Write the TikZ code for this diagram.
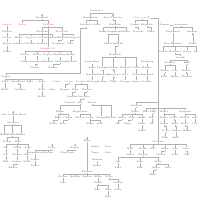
\documentclass[tikz,border=0pt]{standalone}
\tikzset{
  lbl/.style={font=\fontsize{2.3}{2.5}\selectfont, inner sep=0.3pt, text=black!65},
  rl/.style={lbl, text=red!75},
  ln/.style={draw=black!30, line width=0.25pt}
}
\newcommand\fkids[2]{%
  \path (#1.south) ++(0,1) coordinate (#1b);
  \draw[ln] (#1.south) -- (#1b);
  \foreach \c in {#2}{\draw[ln] (\c.north) |- (#1b);}}
\newcommand\crossat[1]{%
  \draw[ln] (#1.north) -- ++(0,-2.6) (#1.north) ++(-0.9,-1.7) -- ++(1.8,0);}
\begin{document}
\begin{tikzpicture}[x=1pt,y=-1pt]
\useasboundingbox (0,0) rectangle (200,200);
% ---------- gray labels ----------
\foreach \n/\x/\y/\t in {
 t0/97/11/Ludwig I., a0/42/18/Friedrich, b0/90/18/Maximilian, b1/113/18/Karl Theodor,
 b2/86/25/Luitpold, b3/97/25/Adele, b4/115/25/Mathilde, c1/135/25/Sophie, c2/147/25/Heinrich,
 d1/164/25/Clemens, d2/181/25/Alexandra,
 a4/7/32/Therese, a5/42/32/Albrecht, b5/103/32/Arnulf, b6/115/32/Rupprecht, b7/126/32/Gisela,
 c3/138/32/Leopold, c4/151/32/Marie, d3/173/32/Ferdinand, d4/192/32/Antonie,
 a8/19/38/Ernst, a11/52/38/Ludovika, a12/62/38/Franz, a13/73/38/Hildegard,
 a14/7/44/Eugen, a15/19/44/Adalbert, a16/31/44/Helene, a17/42/44/Konrad, a18/58/44/Josephine, a19/70/44/Carl,
 b8/108/44/Albert, b9/118/44/Isabella, d5/173/44/Max Emanuel, d6/193/44/Paula,
 a21/7/52/Oskar, d7/163/52/Rudolf, d8/175/52/Marianne, d9/187/52/Georg, d10/196/52/Ida,
 a22/25/55/Gustav, a23/37/55/Klara, a24/48/55/Rupert, a25/60/55/Walburga, a26/71/55/Benno,
 b10/115/55/Heinrich, d11/180/58/Joseph,
 a27/25/62/Alfons, a28/37/62/Irmingard, a29/48/62/Ottokar, a30/60/62/Viktoria, a31/71/62/Albrecht,
 e0/92/62/Leopoldine, f0/147/62/Wolfgang, d12/170/63/Stefanie, d13/187/63/Emil,
 a32/35/68/Sibylle, a33/53/68/Rainer,
 e1/92/68/Anna, e2/102/68/Philipp, e3/113/68/Gabriele, e4/125/68/Michael, e5/136/68/Cecilie, f1/147/68/Hubert,
 d14/165/71/Erwin, d15/175/71/Lina, d16/186/71/Moritz,
 e6/92/75/Karoline, e7/103/75/Dietrich, e8/114/75/Margarete, e9/125/75/Otto, e10/136/75/Clara, e11/147/75/Bernhard,
 g0/6/77/Sophie, d17/164/77/Kurt, d18/175/77/Emma, d19/187/77/Theodor,
 g1/5/82/Adolf, g2/18/82/Mechthild, g3/30/82/Egon, g4/42/82/Irene,
 e12/92/82/Hedwig, e13/102/82/Roman, e14/113/82/Ulrike, e15/125/82/Prosper, e16/136/82/Agnes, e17/147/82/Lothar,
 g8/5/90/Erich, g9/20/90/Johanna, g10/42/90/Felix, g11/52/90/Olga, g12/65/90/Kaspar, g13/75/90/Rosa, g14/87/90/Werner,
 g15/42/97/Herta, g16/72/97/Anselm, g17/84/97/Dorothea,
 h0/70/103/Richard, h1/80/103/Ida, h2/92/103/Frieda, i0/136/106/Gertrud,
 j1/4/115/Ada, j2/13/115/Lorenz, j3/23/115/Berta,
 h3/60/112/Kilian, h4/80/112/Magdalena, i1/135/112/Xaver, i2/146/112/Else, i3/153/112/Paul, i4/164/112/Marta, i5/185/112/Georgine,
 h5/58/118/Emil, h6/68/118/Carola, h7/80/118/Walter, h8/90/118/Luise, h9/101/118/Gregor, h10/111/118/Elfriede,
 h11/122/118/Anton, h12/132/118/Nora, i6/142/118/Bruno, i7/152/118/Eva, i8/164/118/Kuno, i9/174/118/Ottilie, i10/185/118/Harald, i11/195/118/Ines,
 j4/13/123/Mathias,
 h13/53/124/Gerda, h14/63/124/Fritz, h15/90/124/Alma, h16/100/124/Rolf, h17/118/124/Ilse, h18/128/124/Hugo,
 i12/142/124/Senta, i13/152/124/Ida, i14/164/124/Volker, i15/175/124/Erna, i16/185/124/Horst, i17/195/124/Uta,
 i18/142/131/Jakob, i19/166/131/Lotte, i20/176/131/Armin, i21/187/131/Wilma,
 k0/4/135/Edith, k1/12/135/Wenzel, k2/21/135/Hanna, i22/165/138/Sven, i23/176/138/Ruth,
 k3/7/142/Tobias, k4/18/142/Elsa, i24/158/142/Clemens, l2/87/141/Hans,
 l0/52/148/Peter, l1/75/148/Regine, l6/95/147/Lukas, l7/108/147/Dora,
 k5/6/148/Kai, k6/17/148/Ursula, k7/28/148/Timo,
 i25/130/149/Ralf, i26/143/149/Heike, i27/153/149/Nils, i28/165/149/Silke, i29/175/149/Jens, i30/186/149/Anja,
 l3/35/153/Maximilian, l4/48/153/Bettina, l5/67/153/Christoph, l6b/95/153/Tanja, l7b/108/153/Dirk,
 k8/6/155/Lea, k9/17/155/Florian, k10/27/155/Mia,
 i31/130/155/Jonas, i32/143/155/Katrin, i33/161/155/Moritz, i34/175/155/Lena, i35/187/155/Tim,
 l8/35/160/Sabine, l9/97/160/Markus,
 i36/118/162/Jan, i37/140/162/Julia, i38/158/162/Felix,
 k11/6/162/Ben, k12/17/162/Sophia, k13/27/162/Noah,
 l10/35/166/Paula, l11/97/166/Simon, k14/13/168/Emilia,
 i39/118/168/Lara, i40/140/168/Finn, i41/156/168/Marie, i42/168/168/Luca,
 m0/87/172/Thomas, i43/153/175/Elias,
 m1/63/177/Stefan, m2/75/177/Monika, m3/87/177/Andrea, m4/98/177/Klaus, m5/109/177/Petra,
 m6/63/183/Lisa, m7/98/183/Frank, m8/118/183/Sandra,
 m9/97/190/Tim, m10/108/190/Nina, m11/118/190/Leon, m12/108/197/Mila}
 {\node[lbl] (\n) at (\x,\y) {\t};}
% ---------- red labels ----------
\foreach \n/\x/\y/\t in {
 c0/142/18/Otto von W., a1/7/25/Amalie, a2/22/25/Georg, a3/48/25/Wilhelm, a6/62/32/Elisabeth,
 a7/7/38/Johann, a9/31/38/Auguste, a10/42/38/Anton, a20/48/49/Ludwig III.,
 g5/57/82/Valerie, g6/69/82/Louis, g7/81/82/Pauline}
 {\node[rl] (\n) at (\x,\y) {\t};}
% ---------- families ----------
\fkids{a0}{a2,a3}
\fkids{a1}{a4} \fkids{a4}{a7} \fkids{a7}{a14} \fkids{a14}{a21}
\fkids{a3}{a5,a6,a20}
\fkids{a5}{a8,a9,a10,a11} \fkids{a6}{a12,a13}
\fkids{a8}{a15} \fkids{a9}{a16} \fkids{a10}{a17} \fkids{a12}{a18} \fkids{a13}{a19}
\fkids{a20}{a22,a23,a24,a25,a26}
\fkids{a22}{a27} \fkids{a23}{a28} \fkids{a24}{a29} \fkids{a25}{a30} \fkids{a26}{a31}
\fkids{a28}{a32} \fkids{a30}{a33}
\fkids{t0}{b0,b1}
\fkids{b0}{b2,b3}
\fkids{b1}{b4} \fkids{b4}{b5,b6,b7} \fkids{b6}{b8,b9} \fkids{b9}{b10}
\fkids{b10}{e2,e3,e4,e5}
\fkids{e0}{e1} \fkids{f0}{f1}
\fkids{e1}{e6} \fkids{e2}{e7} \fkids{e3}{e8} \fkids{e4}{e9} \fkids{e5}{e10} \fkids{f1}{e11}
\fkids{e6}{e12} \fkids{e7}{e13} \fkids{e8}{e14} \fkids{e9}{e15} \fkids{e10}{e16} \fkids{e11}{e17}
\fkids{c0}{c1,c2} \fkids{c1}{c3} \fkids{c2}{c4}
\fkids{d2}{d3,d4} \fkids{d3}{d5} \fkids{d4}{d6} \fkids{d5}{d7,d8,d9,d10}
\fkids{d8}{d11} \fkids{d11}{d12,d13} \fkids{d12}{d14,d15} \fkids{d13}{d16}
\fkids{d14}{d17} \fkids{d15}{d18} \fkids{d16}{d19}
\fkids{g0}{g1,g2,g3,g4}
\fkids{g1}{g8} \fkids{g2}{g9} \fkids{g4}{g10} \fkids{g10}{g15}
\fkids{g6}{g12} \fkids{g7}{g13,g14} \fkids{g13}{g16} \fkids{g14}{g17}
\fkids{g17}{h1} \fkids{h1}{h3,h4} \fkids{h3}{h5,h6} \fkids{h4}{h7,h8}
\fkids{h5}{h13} \fkids{h6}{h14} \fkids{h8}{h15,h16} \fkids{h2}{h9,h10}
\fkids{i0}{i1} \fkids{i1}{h11,h12,i6} \fkids{h11}{h17} \fkids{h12}{h18} \fkids{i6}{i12} \fkids{i12}{i18}
\fkids{i3}{i7} \fkids{i7}{i13}
\fkids{i4}{i8,i9} \fkids{i5}{i10,i11}
\fkids{i8}{i14} \fkids{i9}{i15} \fkids{i10}{i16} \fkids{i11}{i17}
\fkids{i14}{i19} \fkids{i15}{i20} \fkids{i16}{i21} \fkids{i19}{i22} \fkids{i20}{i23}
\fkids{j2}{j4} \fkids{j4}{k0,k1,k2} \fkids{k1}{k3,k4} \fkids{k4}{k5,k6,k7}
\fkids{k5}{k8} \fkids{k6}{k9} \fkids{k7}{k10} \fkids{k8}{k11} \fkids{k9}{k12} \fkids{k10}{k13} \fkids{k12}{k14}
\fkids{l0}{l3,l4} \fkids{l1}{l5} \fkids{l3}{l8} \fkids{l8}{l10} \fkids{l9}{l11}
\fkids{l2}{m0}
\fkids{m0}{m1,m2,m3,m4,m5} \fkids{m1}{m6} \fkids{m4}{m7} \fkids{m5}{m8} \fkids{m7}{m9,m10} \fkids{m8}{m11} \fkids{m10}{m12}
\fkids{i24}{i25,i26,i27,i28,i29,i30}
\fkids{i25}{i31} \fkids{i26}{i32} \fkids{i28}{i33} \fkids{i29}{i34} \fkids{i30}{i35}
\fkids{i32}{i36,i37,i38} \fkids{i36}{i39} \fkids{i37}{i40} \fkids{i38}{i41,i42} \fkids{i41}{i43}
% ---------- long connectors ----------
\coordinate (k80a) at (80,28);
\coordinate (k80b) at (80,73);
\draw[ln] (b2.south) |- (k80a) -- (k80b) -| (g0.north);
\draw[ln] (c0.east) -| (i24.north);
\coordinate (tr1) at (158,102);
\coordinate (tr2) at (158,108.5);
\draw[ln] (i0.north) |- (tr1);
\foreach \c in {i2,i3,i4,i5}{\draw[ln] (\c.north) |- (tr2);}
\draw[ln] (d1.west) -- (d1.west -| i24.north);
\draw[ln] (d2.west) -- (d1.east);
% ---------- cross marks ----------
\foreach \c in {a0,b1,j2,l0,l1,l2}{\crossat{\c}}
\end{tikzpicture}
\end{document}
